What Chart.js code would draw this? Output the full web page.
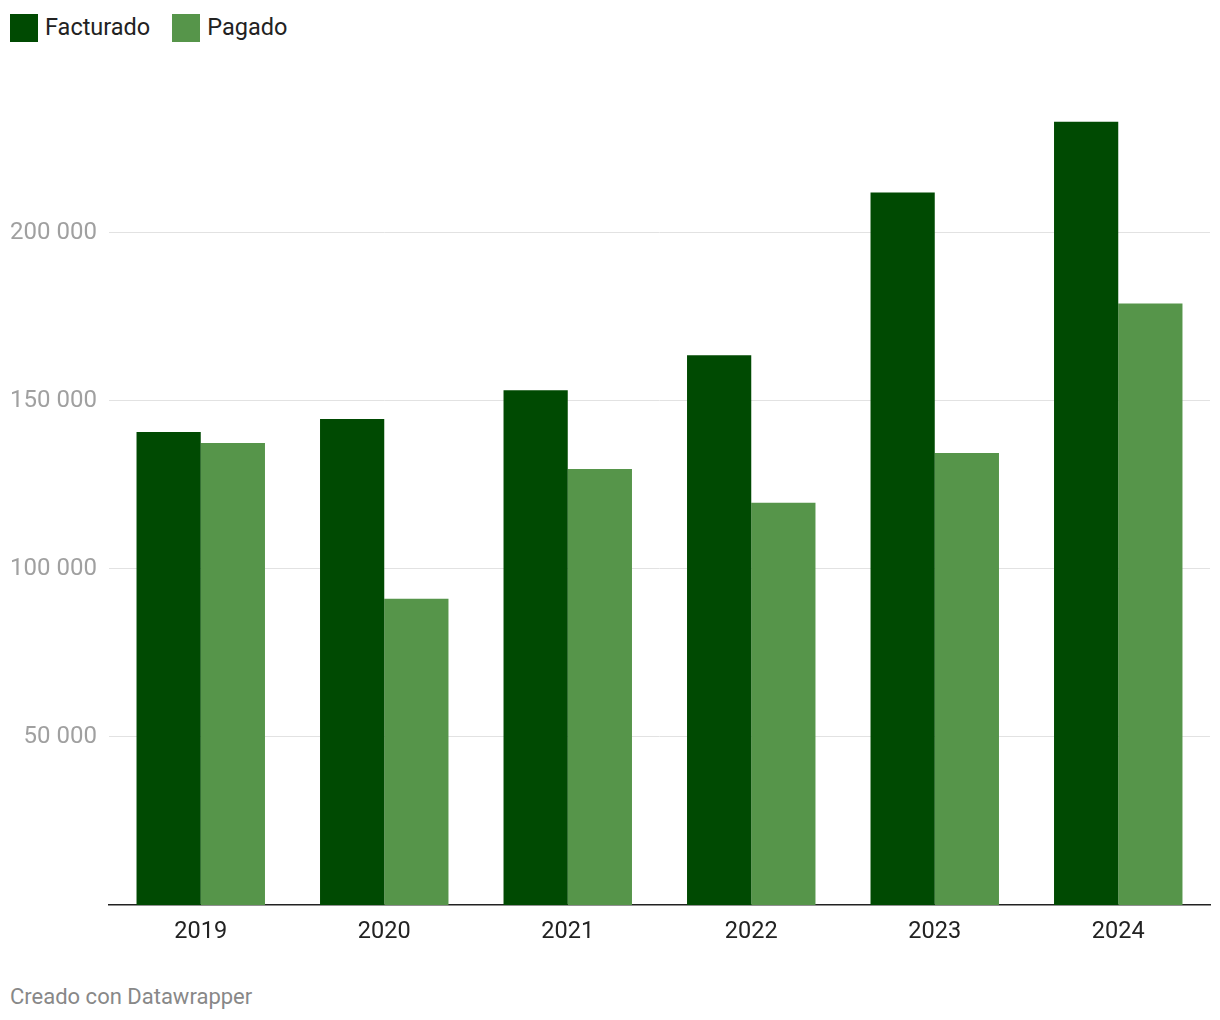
<!DOCTYPE html>
<html>
<head>
<meta charset="utf-8">
<script src="https://cdn.jsdelivr.net/npm/chart.js@4/dist/chart.umd.min.js"></script>
<style>
  html, body { margin: 0; padding: 0; background: #fff; font-family: Roboto, sans-serif; }
  #wrap { position: relative; width: 1220px; height: 1020px; }
  #legend { position: absolute; left: 10px; top: 14px; display: flex; align-items: center; font-size: 23.5px; color: #222; }
  .item { display: flex; align-items: center; margin-right: 22px; height: 28px; }
  .item span { position: relative; top: -1px; }
  .box { width: 28px; height: 28px; margin-right: 7px; }
  #chartBox { position: absolute; left: 0; top: 0; width: 1220px; height: 960px; }
  #footer { position: absolute; left: 10px; top: 984px; font-size: 22px; color: #888; }
</style>
</head>
<body>
<div id="wrap">
  <div id="legend"></div>
  <div id="chartBox"><canvas id="barChart"></canvas></div>
  <div id="footer">Creado con Datawrapper</div>
</div>
<script>
// years on the x axis
const years = ['2019', '2020', '2021', '2022', '2023', '2024'];
// values
const facturado = [140700, 144500, 153100, 163500, 211900, 232900];
const pagado = [137400, 91100, 129700, 119600, 134400, 178900];
const yTicks = [50000, 100000, 150000, 200000];

const colorFact = '#004a02';
const colorPag = '#56954a';

// simple html legend, like datawrapper
const legend = document.getElementById('legend');
[['Facturado', colorFact], ['Pagado', colorPag]].forEach(([name, col]) => {
  const it = document.createElement('div');
  it.className = 'item';
  it.innerHTML = '<div class="box" style="background:' + col + '"></div><span>' + name + '</span>';
  legend.appendChild(it);
});

const fmt = v => String(v).replace(/\B(?=(\d{3})+(?!\d))/g, ' ');

new Chart(document.getElementById('barChart'), {
  type: 'bar',
  data: {
    labels: years,
    datasets: [
      { label: 'Facturado', data: facturado, backgroundColor: colorFact },
      { label: 'Pagado', data: pagado, backgroundColor: colorPag }
    ]
  },
  options: {
    responsive: true,
    maintainAspectRatio: false,
    animation: false,
    layout: { padding: { top: 98, right: 10, left: 0, bottom: 0 } },
    datasets: { bar: { barPercentage: 1, categoryPercentage: 0.7 } },
    scales: {
      x: {
        grid: { display: false, drawTicks: false },
        border: { color: '#222', width: 1.5 },
        ticks: { color: '#222', font: { family: 'Roboto', size: 23.5 }, padding: 13 },
        afterFit: s => { s.height = 55; }
      },
      y: {
        min: 0,
        max: 240000,
        afterBuildTicks: s => { s.ticks = yTicks.map(v => ({ value: v })); },
        grid: { color: '#e2e2e2', lineWidth: 1, drawTicks: false },
        border: { display: false },
        ticks: {
          color: '#a0a0a0',
          font: { family: 'Roboto', size: 24 },
          padding: 12,
          callback: v => fmt(v)
        },
        afterFit: s => { s.width = 109; }
      }
    },
    plugins: {
      legend: { display: false },
      tooltip: { enabled: false }
    }
  }
});
</script>
</body>
</html>
